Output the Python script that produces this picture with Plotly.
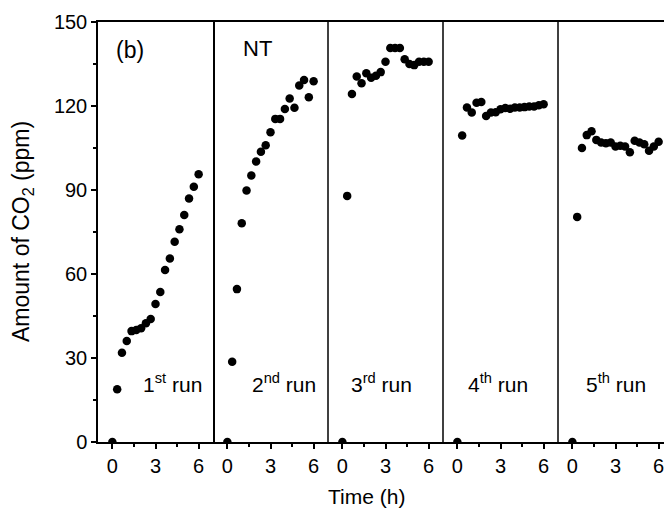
import plotly.graph_objects as go

# ---- data (time in h, CO2 in ppm) ----
time_h = [0, 1/3, 2/3, 1, 4/3, 5/3, 2, 7/3, 8/3, 3, 10/3, 11/3, 4, 13/3, 14/3, 5, 16/3, 17/3, 6]

run1 = [0, 18.8, 31.9, 36.1, 39.6, 40.0, 40.6, 42.4, 43.9, 49.3, 53.6, 61.4, 65.5, 71.5, 76.0, 81.1, 87.0, 91.2, 95.6]
run2 = [0, 28.7, 54.6, 78.1, 89.8, 95.2, 100.2, 103.7, 106.0, 110.6, 115.4, 115.4, 118.9, 122.7, 119.4, 127.3, 129.3, 123.1, 128.8]
run3 = [0, 87.9, 124.3, 130.5, 128.1, 131.7, 130.1, 130.8, 132.1, 135.8, 140.7, 140.7, 140.7, 136.7, 135.0, 134.6, 135.8, 135.8, 135.8]
run4 = [0, 109.5, 119.5, 117.7, 121.2, 121.4, 116.4, 117.7, 117.8, 118.8, 119.3, 119.0, 119.5, 119.5, 119.6, 119.8, 119.8, 120.3, 120.6]
run5 = [0, 80.4, 105.0, 109.6, 111.0, 107.9, 107.0, 106.7, 107.0, 105.5, 105.8, 105.5, 103.5, 107.6, 107.0, 106.3, 104.0, 105.5, 107.2]

runs = [run1, run2, run3, run4, run5]
run_labels = ["1<sup>st</sup> run", "2<sup>nd</sup> run", "3<sup>rd</sup> run", "4<sup>th</sup> run", "5<sup>th</sup> run"]
label_x = [4.2, 3.95, 2.75, 2.85, 3.0]
label_y = 21

x_ticks = [0, 3, 6]
y_ticks = [0, 30, 60, 90, 120, 150]

# ---- layout geometry ----
W, H = 664, 513
ML, MR, MT, MB = 98, 0, 22, 71
PW = W - ML - MR
panel_px = 115
FONT = "Liberation Sans, Arial, sans-serif"
LW = 1.5
TICK_FS = 20
ANN_FS = 21

fig = go.Figure()
layout = dict(
    width=W, height=H,
    margin=dict(l=ML, r=MR, t=MT, b=MB),
    paper_bgcolor="white", plot_bgcolor="white",
    showlegend=False,
    font=dict(family=FONT, size=TICK_FS, color="black"),
)

for i, vals in enumerate(runs):
    xa = "x" if i == 0 else f"x{i+1}"
    key = "xaxis" if i == 0 else f"xaxis{i+1}"
    d0 = i * panel_px / PW
    d1 = min(1.0, (i + 1) * panel_px / PW)
    span_px = (d1 - d0) * PW
    rng = [-1, -1 + 8 * span_px / panel_px]
    fig.add_trace(go.Scatter(
        x=time_h, y=vals, mode="markers", xaxis=xa, yaxis="y",
        marker=dict(color="black", size=8.5), hoverinfo="skip",
    ))
    layout[key] = dict(
        domain=[d0, d1], range=rng, anchor="y",
        showgrid=False, zeroline=False,
        showline=True, linecolor="black", linewidth=LW, mirror=True,
        tickmode="array", tickvals=x_ticks,
        ticks="outside", ticklen=5, tickwidth=LW, tickcolor="black",
        minor=dict(dtick=1.5, tick0=0, ticks="outside", ticklen=3, tickwidth=LW, tickcolor="black"),
        tickfont=dict(family=FONT, size=TICK_FS, color="black"),
        ticklabeloverflow="allow",
        fixedrange=True,
    )

layout["yaxis"] = dict(
    domain=[0, 1], range=[0, 150], anchor="x",
    showgrid=False, zeroline=False,
    showline=True, linecolor="black", linewidth=LW, mirror=True,
    tickmode="array", tickvals=y_ticks,
    ticks="outside", ticklen=5, tickwidth=LW, tickcolor="black",
    minor=dict(dtick=15, tick0=0, ticks="outside", ticklen=3, tickwidth=LW, tickcolor="black"),
    tickfont=dict(family=FONT, size=TICK_FS, color="black"),
    fixedrange=True,
)

shapes = []
for i in range(2, 5):
    shapes.append(dict(type="line", xref=f"x{i} domain", yref="y domain",
                       x0=1, x1=1, y0=0, y1=1, line=dict(color="black", width=LW)))
layout["shapes"] = shapes

ann = []
for i, lab in enumerate(run_labels):
    xa = "x" if i == 0 else f"x{i+1}"
    ann.append(dict(text=lab, x=label_x[i], y=label_y, xref=xa, yref="y",
                    showarrow=False, font=dict(family=FONT, size=ANN_FS, color="black")))
ann.append(dict(text="(b)", x=1.2, y=140, xref="x", yref="y", showarrow=False,
                font=dict(family=FONT, size=23, color="black")))
ann.append(dict(text="NT", x=2.1, y=140.5, xref="x2", yref="y", showarrow=False,
                font=dict(family=FONT, size=22, color="black")))
ann.append(dict(text="Time (h)", x=(366 - ML) / PW, y=-(496 - (H - MB)) / (H - MT - MB),
                xref="paper", yref="paper", showarrow=False, yanchor="middle",
                font=dict(family=FONT, size=21, color="black")))
ann.append(dict(text="Amount of CO<sub>2</sub> (ppm)", x=(22 - ML) / PW, y=0.5,
                xref="paper", yref="paper", showarrow=False, textangle=-90,
                xanchor="center", yanchor="middle",
                font=dict(family=FONT, size=23, color="black")))
layout["annotations"] = ann

fig.update_layout(**layout)
fig.write_html("out.html", config={"displayModeBar": False})
